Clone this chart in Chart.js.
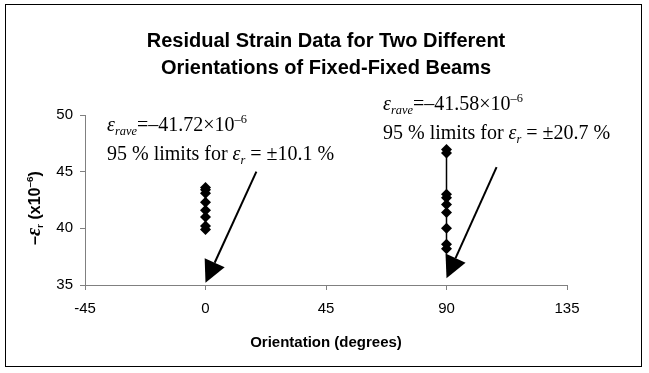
<!DOCTYPE html>
<html>
<head>
<meta charset="utf-8">
<script src="https://cdn.jsdelivr.net/npm/chart.js@4/dist/chart.umd.min.js"></script>
<style>
  html, body { margin: 0; padding: 0; background: #fff; }
  #wrap { width: 649px; height: 373px; }
</style>
</head>
<body>
<div id="wrap"><canvas id="c" width="649" height="373"></canvas></div>
<script>
// Data
const orient0 = [0, 0, 0, 0, 0, 0, 0, 0];
const strain0 = [43.6, 43.4, 43.1, 42.3, 41.6, 41.0, 40.2, 39.9];
const orient90 = [90, 90, 90, 90, 90, 90, 90, 90, 90];
const strain90 = [46.95, 46.65, 43.0, 42.7, 42.1, 41.4, 40.0, 38.6, 38.2];
const xTicks = [-45, 0, 45, 90, 135];
const yTicks = [35, 40, 45, 50];

// arrows in data units: [fromX, fromY, toX, toY]
const arrows = [
  [19, 45.0, 0, 35.2],
  [108.7, 45.4, 90, 35.6]
];

const toPts = (xs, ys) => xs.map((x, i) => ({ x: x, y: ys[i] }));

const serif = '"Liberation Serif", "Times New Roman", serif';
const sans = '"Liberation Sans", Arial, sans-serif';

// draw a run of text pieces: {t, it, sub, sup}
function drawRich(ctx, x, y, parts, size, family, bold) {
  parts.forEach(p => {
    const sz = (p.sub || p.sup) ? size * 0.62 : size * (p.big || 1);
    ctx.font = (p.it ? 'italic ' : '') + (bold ? 'bold ' : '') + sz + 'px ' + (p.fam || family);
    const dy = p.sub ? size * 0.2 : p.sup ? -size * 0.42 : 0;
    ctx.fillText(p.t, x, y + dy);
    x += ctx.measureText(p.t).width;
  });
}

const decor = {
  id: 'decor',
  afterDraw(chart) {
    const ctx = chart.ctx;
    const xs = chart.scales.x, ys = chart.scales.y;
    ctx.save();
    ctx.fillStyle = '#000';
    ctx.textBaseline = 'alphabetic';

    // title
    ctx.textAlign = 'center';
    ctx.font = 'bold 20px ' + sans;
    ctx.fillText('Residual Strain Data for Two Different', 326, 47);
    ctx.fillText('Orientations of Fixed-Fixed Beams', 326, 74);

    // x title
    ctx.font = 'bold 15px ' + sans;
    ctx.fillText('Orientation (degrees)', 326, 347);

    // y title (rotated)
    ctx.textAlign = 'left';
    ctx.save();
    ctx.translate(40, 245);
    ctx.rotate(-Math.PI / 2);
    drawRich(ctx, 0, 0, [
      { t: '\u2013' },
      { t: '\u03b5', it: true, big: 1.25, fam: serif },
      { t: 'r', sub: true },
      { t: ' (x10' },
      { t: '\u20136', sup: true },
      { t: ')' }
    ], 16, sans, true);
    ctx.restore();

    // annotations
    const note = (x, y, avg, lim) => {
      drawRich(ctx, x, y, [
        { t: '\u03b5', it: true },
        { t: 'rave', it: true, sub: true },
        { t: '=\u2013' + avg + '\u00d710' },
        { t: '\u20136', sup: true }
      ], 20, serif, false);
      drawRich(ctx, x, y + 29, [
        { t: '95 % limits for ' },
        { t: '\u03b5', it: true },
        { t: 'r', it: true, sub: true },
        { t: ' = \u00b1' + lim + ' %' }
      ], 20, serif, false);
    };
    note(107, 131, '41.72', '10.1');
    note(383, 110, '41.58', '20.7');

    // arrows
    ctx.strokeStyle = '#000';
    ctx.lineWidth = 2;
    arrows.forEach(a => {
      const x1 = xs.getPixelForValue(a[0]), y1 = ys.getPixelForValue(a[1]);
      const x2 = xs.getPixelForValue(a[2]), y2 = ys.getPixelForValue(a[3]);
      const ang = Math.atan2(y2 - y1, x2 - x1);
      const len = 22, half = 11;
      const bx = x2 - len * Math.cos(ang), by = y2 - len * Math.sin(ang);
      ctx.beginPath();
      ctx.moveTo(x1, y1);
      ctx.lineTo(bx, by);
      ctx.stroke();
      ctx.beginPath();
      ctx.moveTo(x2, y2);
      ctx.lineTo(bx + half * Math.sin(ang), by - half * Math.cos(ang));
      ctx.lineTo(bx - half * Math.sin(ang), by + half * Math.cos(ang));
      ctx.closePath();
      ctx.fill();
    });

    // outer frame
    ctx.strokeStyle = '#000';
    ctx.lineWidth = 1;
    ctx.strokeRect(5.5, 4.5, 636, 362);
    ctx.restore();
  }
};

const series = (xs, ys) => ({
  data: toPts(xs, ys),
  showLine: true,
  borderColor: '#000',
  borderWidth: 1.5,
  backgroundColor: '#000',
  pointStyle: 'rectRot',
  pointRadius: 5.5,
  pointBorderWidth: 0
});

new Chart(document.getElementById('c'), {
  type: 'scatter',
  data: {
    datasets: [series(orient0, strain0), series(orient90, strain90)]
  },
  options: {
    responsive: false,
    animation: false,
    events: [],
    layout: { padding: { left: 0, top: 115, right: 82, bottom: 0 } },
    plugins: { legend: { display: false }, tooltip: { enabled: false } },
    scales: {
      x: {
        type: 'linear',
        min: xTicks[0], max: xTicks[xTicks.length - 1],
        afterBuildTicks: s => { s.ticks = xTicks.map(v => ({ value: v })); },
        afterFit: s => { s.height = 88; },
        ticks: { color: '#000', font: { family: sans, size: 15 }, padding: 10 },
        grid: { drawOnChartArea: false, tickLength: 5, color: '#808080' },
        border: { color: '#808080', width: 1 }
      },
      y: {
        min: yTicks[0], max: yTicks[yTicks.length - 1],
        afterBuildTicks: s => { s.ticks = yTicks.map(v => ({ value: v })); },
        afterFit: s => { s.width = 85; },
        ticks: { color: '#000', font: { family: sans, size: 15 }, padding: 7 },
        grid: { drawOnChartArea: false, tickLength: 5, color: '#808080' },
        border: { color: '#808080', width: 1 }
      }
    }
  },
  plugins: [decor]
});
</script>
</body>
</html>
